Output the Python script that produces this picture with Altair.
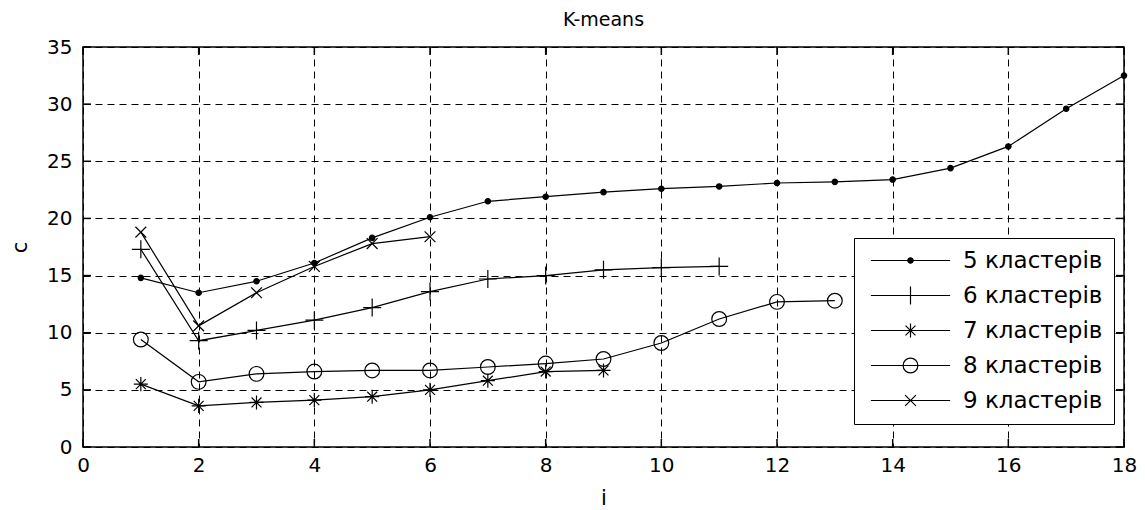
import altair as alt
import pandas as pd

series_names = ["5 кластерів", "6 кластерів", "7 кластерів", "8 кластерів", "9 кластерів"]

i5 = list(range(1, 19))
c5 = [14.8, 13.5, 14.5, 16.1, 18.3, 20.1, 21.5, 21.9, 22.3, 22.6, 22.8, 23.1, 23.2, 23.4, 24.4, 26.3, 29.6, 32.5]
i6 = list(range(1, 12))
c6 = [17.3, 9.3, 10.2, 11.1, 12.2, 13.6, 14.7, 15.0, 15.5, 15.7, 15.8]
i7 = list(range(1, 10))
c7 = [5.5, 3.6, 3.9, 4.1, 4.4, 5.0, 5.8, 6.6, 6.7]
i8 = list(range(1, 14))
c8 = [9.4, 5.7, 6.4, 6.6, 6.7, 6.7, 7.0, 7.3, 7.7, 9.1, 11.2, 12.7, 12.8]
i9 = list(range(1, 7))
c9 = [18.8, 10.6, 13.5, 15.8, 17.8, 18.4]

x_ticks = list(range(0, 19, 2))
y_ticks = list(range(0, 36, 5))

rows = []
for name, xs, ys in zip(series_names, [i5, i6, i7, i8, i9], [c5, c6, c7, c8, c9]):
    for a, b in zip(xs, ys):
        rows.append({"series": name, "i": a, "c": b})
df = pd.DataFrame(rows)
xt_df = pd.DataFrame({"i": x_ticks})
yt_df = pd.DataFrame({"c": y_ticks})

# marker paths in [-1,1] space (MATLAB-like markers)
marker_paths = [
    "M-0.3,0A0.3,0.3 0 1,0 0.3,0A0.3,0.3 0 1,0 -0.3,0Z",                  # filled dot
    "M-1,0L1,0M0,-1L0,1",                                                  # plus
    "M-0.78,0L0.78,0M0,-0.78L0,0.78M-0.55,-0.55L0.55,0.55M-0.55,0.55L0.55,-0.55",  # asterisk
    "M-0.82,0A0.82,0.82 0 1,0 0.82,0A0.82,0.82 0 1,0 -0.82,0Z",           # circle
    "M-0.6,-0.6L0.6,0.6M-0.6,0.6L0.6,-0.6",                                # x
]
fills = ["black", "transparent", "transparent", "transparent", "transparent"]
strokes = ["black"] * 5
legend_line = "M-4.4,0L4.4,0"
legend_paths = [legend_line + p for p in marker_paths]

FONT = "DejaVu Sans"
W, H, TICK = 1041, 400, 8

x_scale = alt.Scale(domain=[0, 18], nice=False)
y_scale = alt.Scale(domain=[0, 35], nice=False)
x_enc = alt.X("i:Q", scale=x_scale, axis=alt.Axis(values=x_ticks, title="i", format="d"))
y_enc = alt.Y("c:Q", scale=y_scale, axis=alt.Axis(values=y_ticks, title="c", format="d"))

base = alt.Chart(df)

lines = base.mark_line(color="black", strokeWidth=1.2).encode(
    x=x_enc, y=y_enc, detail="series:N"
)

points = base.mark_point(stroke="black", strokeWidth=1.2, size=324, opacity=1).encode(
    x=x_enc,
    y=y_enc,
    shape=alt.Shape("series:N", scale=alt.Scale(domain=series_names, range=marker_paths), legend=None),
    fill=alt.Fill("series:N", scale=alt.Scale(domain=series_names, range=fills), legend=None),
)

legend_layer = base.mark_point(strokeWidth=1.2, size=324, opacity=0).encode(
    x=x_enc,
    y=y_enc,
    shape=alt.Shape(
        "series:N",
        scale=alt.Scale(domain=series_names, range=legend_paths),
        legend=alt.Legend(
            title=None,
            orient="none",
            legendX=771,
            legendY=191,
            padding=11,
            strokeColor="black",
            fillColor="white",
            labelFont=FONT,
            labelFontSize=23,
            labelColor="black",
            labelOffset=41,
            symbolOffset=34,
            symbolSize=324,
            symbolStrokeColor="black",
            symbolStrokeWidth=1.2,
            symbolOpacity=1,
            rowPadding=11,
        ),
    ),
    fill=alt.Fill("series:N", scale=alt.Scale(domain=series_names, range=fills)),
    stroke=alt.Stroke("series:N", scale=alt.Scale(domain=series_names, range=strokes)),
)

# MATLAB-style inward tick marks on all four sides
ticks_bottom = alt.Chart(xt_df).mark_rule(color="black", strokeWidth=1.5).encode(
    x=x_enc, y=alt.value(H), y2=alt.value(H - TICK))
ticks_top = alt.Chart(xt_df).mark_rule(color="black", strokeWidth=1.5).encode(
    x=x_enc, y=alt.value(0), y2=alt.value(TICK))
ticks_left = alt.Chart(yt_df).mark_rule(color="black", strokeWidth=1.5).encode(
    y=y_enc, x=alt.value(0), x2=alt.value(TICK))
ticks_right = alt.Chart(yt_df).mark_rule(color="black", strokeWidth=1.5).encode(
    y=y_enc, x=alt.value(W), x2=alt.value(W - TICK))

chart = alt.layer(
    lines, points, legend_layer, ticks_bottom, ticks_top, ticks_left, ticks_right
).resolve_scale(
    shape="independent", fill="independent", stroke="independent"
).properties(
    width=W,
    height=H,
    title=alt.TitleParams("K-means", font=FONT, fontSize=19, fontWeight="normal", color="black", offset=7),
    autosize=alt.AutoSizeParams(type="none"),
    padding={"left": 75, "top": 39, "right": 13, "bottom": 62},
).configure_view(
    stroke="black", strokeWidth=1.5
).configure_axis(
    grid=True,
    gridColor="black",
    gridDash=[7, 5],
    gridWidth=1,
    gridOpacity=1,
    domain=False,
    ticks=False,
    labelFlush=False,
    labelFont=FONT,
    labelFontSize=20,
    labelColor="black",
    titleFont=FONT,
    titleFontSize=21,
    titleFontWeight="normal",
    titleColor="black",
).configure_axisY(
    labelPadding=11,
    titlePadding=16,
).configure_axisX(
    labelPadding=8,
    titlePadding=12,
)

chart.save("out.html", embed_options={"renderer": "svg", "actions": False})
